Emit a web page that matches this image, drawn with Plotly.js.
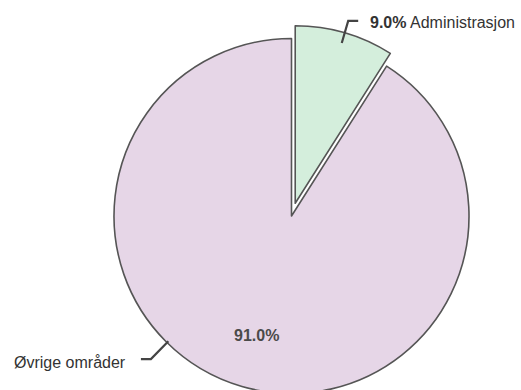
<!DOCTYPE html>
<html>
<head>
<meta charset="utf-8">
<script src="https://cdn.plot.ly/plotly-3.0.1.min.js"></script>
<style>
html,body{margin:0;padding:0;overflow:hidden;background:#fff;width:521px;height:390px;}
#chart{width:521px;height:410px;}
</style>
</head>
<body>
<div id="chart"></div>
<script>
// Data
const labels = ["Administrasjon", "Øvrige områder"];
const values = [9.0, 91.0];
const colors = ["#d4eedc", "#e6d6e7"];
const pulls = [0.075, 0];

// Layout geometry (pixels)
const W = 521, H = 410;
const CX = 291.5, CY = 216, R = 177.5;
const maxPull = Math.max(...pulls);
const rawR = R * (1 + maxPull);
const dom = {
  x: [(CX - rawR) / W, (CX + rawR) / W],
  y: [(H - CY - rawR) / H, (H - CY + rawR) / H]
};

const total = values.reduce((a, b) => a + b, 0);
const pct = values.map(v => (v / total * 100).toFixed(1) + "%");

// slice mid angles (deg, clockwise from 12 o'clock)
let acc = 0;
const mids = values.map(v => { const m = (acc + v / 2) / total * 360; acc += v; return m; });
// label angle for the big slice leader (placement in the reference)
const labelAngles = [mids[0], 224.5];

function pt(cx, cy, r, deg) {
  const a = deg * Math.PI / 180;
  return [cx + r * Math.sin(a), cy - r * Math.cos(a)];
}
const px = x => x / W, py = y => (H - y) / H;
const FONT = "Liberation Sans, Arial, sans-serif";

const shapes = [];
const annotations = [];
labels.forEach((lab, i) => {
  const ang = labelAngles[i];
  const off = pt(0, 0, pulls[i] * R, mids[i]);
  const cx = CX + off[0], cy = CY + off[1];
  const inner = i === 0 ? 0.94 : 0.99;
  const outer = i === 0 ? 1.07 : 1.13;
  const p1 = pt(cx, cy, R * inner, ang);
  const p2 = pt(cx, cy, R * outer, ang);
  const side = Math.sin(ang * Math.PI / 180) >= 0 ? 1 : -1;
  const p3 = [p2[0] + side * 10, p2[1]];
  shapes.push({
    type: "path", xref: "paper", yref: "paper",
    path: `M ${px(p1[0])} ${py(p1[1])} L ${px(p2[0])} ${py(p2[1])} L ${px(p3[0])} ${py(p3[1])}`,
    line: { color: "#444", width: 2.2 }
  });
  const text = i === 0 ? `<b>${pct[i]}</b> ${lab}` : lab;
  annotations.push({
    xref: "paper", yref: "paper",
    x: px(p3[0] + side * (i === 0 ? 10 : 13)), y: py(p3[1] + (i === 0 ? 1.5 : 3)),
    xanchor: side > 0 ? "left" : "right", yanchor: "middle",
    text: text, showarrow: false,
    font: { family: FONT, size: 16, color: "#333" }
  });
});

// inside percent label for the big slice, at its mid angle
const pin = pt(CX, CY, R * 0.70, mids[1]);
annotations.push({
  xref: "paper", yref: "paper",
  x: px(pin[0]), y: py(pin[1]),
  xanchor: "center", yanchor: "middle",
  text: `<b>${pct[1]}</b>`, showarrow: false,
  font: { family: FONT, size: 16, color: "#4a4a4a" }
});

const trace = {
  type: "pie",
  labels: labels,
  values: values,
  sort: false,
  direction: "clockwise",
  rotation: 0,
  pull: pulls,
  domain: dom,
  marker: { colors: colors, line: { color: "#555", width: 1.6 } },
  textinfo: "none",
  hoverinfo: "label+percent",
  showlegend: false
};

Plotly.newPlot("chart", [trace], {
  width: W, height: H,
  margin: { l: 0, r: 0, t: 0, b: 0 },
  paper_bgcolor: "#fff",
  showlegend: false,
  shapes: shapes,
  annotations: annotations
}, { displayModeBar: false, staticPlot: true });
</script>
</body>
</html>
